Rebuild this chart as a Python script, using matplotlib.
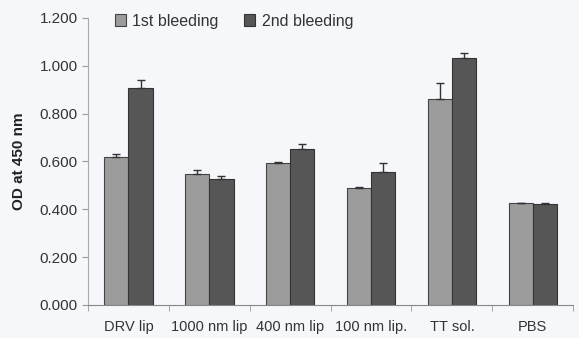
import numpy as np
import matplotlib.pyplot as plt

groups = ['DRV lip', '1000 nm lip', '400 nm lip', '100 nm lip.', 'TT sol.', 'PBS']
first = [0.619, 0.548, 0.593, 0.488, 0.861, 0.428]
first_err = [0.014, 0.017, 0.005, 0.003, 0.067, 0.0]
second = [0.906, 0.526, 0.650, 0.554, 1.032, 0.423]
second_err = [0.035, 0.015, 0.024, 0.039, 0.021, 0.002]

plt.rcParams['font.family'] = ['Liberation Sans', 'DejaVu Sans']

fig = plt.figure(figsize=(5.79, 3.38), dpi=100)
fig.patch.set_facecolor('#f5f7fa')
ax = fig.add_axes([0.152, 0.098, 0.838, 0.849])
ax.set_facecolor('#f5f7fa')

x = np.arange(len(groups))
w = 0.3
ax.bar(x - w / 2, first, w, yerr=[np.zeros(6), first_err], color='#9c9c9c',
       edgecolor='#444444', linewidth=0.8, capsize=3,
       error_kw=dict(ecolor='#333333', elinewidth=1), label='1st bleeding')
ax.bar(x + w / 2, second, w, yerr=[np.zeros(6), second_err], color='#565656',
       edgecolor='#333333', linewidth=0.8, capsize=3,
       error_kw=dict(ecolor='#333333', elinewidth=1), label='2nd bleeding')

ax.set_xlim(-0.5, len(groups) - 0.5)
ax.set_ylim(0, 1.2)
ax.set_yticks(np.arange(0, 1.21, 0.2))
ax.set_yticklabels(['%.3f' % v for v in np.arange(0, 1.21, 0.2)], fontsize=11, color='#333333')
ax.set_xticks(x)
ax.set_xticklabels(groups, fontsize=10.5, color='#333333')
ax.tick_params(axis='x', length=0, pad=11)
ax.set_xticks(np.arange(-0.5, len(groups), 1), minor=True)
ax.tick_params(axis='x', which='minor', length=4, color='#999999')
ax.tick_params(axis='y', length=4, color='#999999')

for s in ['top', 'right']:
    ax.spines[s].set_visible(False)
ax.spines['left'].set_color('#aaaaaa')
ax.spines['bottom'].set_color('#888888')

ax.set_ylabel('OD at 450 nm', fontsize=11, fontweight='bold', color='#222222', labelpad=10)

ax.legend(loc='upper left', bbox_to_anchor=(0.025, 1.065), ncol=2, frameon=False,
          fontsize=11.5, handlelength=0.7, handleheight=0.7, columnspacing=1.6,
          handletextpad=0.4, labelcolor='#333333')

plt.savefig('out.png', dpi=100, facecolor=fig.get_facecolor())
